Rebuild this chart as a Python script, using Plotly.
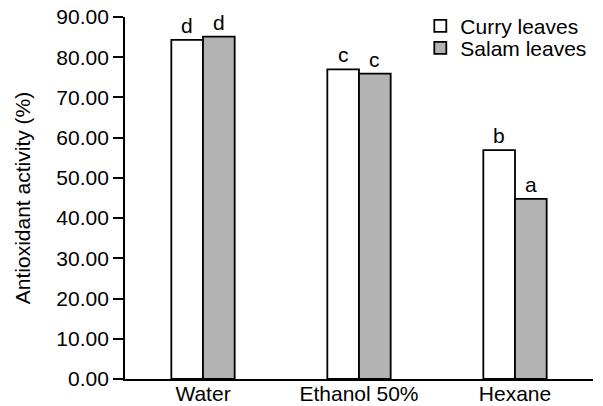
import plotly.graph_objects as go

categories = ["Water", "Ethanol 50%", "Hexane"]
curry = [84.3, 77.0, 56.9]
salam = [85.1, 75.9, 44.8]
curry_letters = ["d", "c", "b"]
salam_letters = ["d", "c", "a"]

FONT = "Liberation Sans, Arial, sans-serif"
FS = 21
BARGAP = 0.594

fig = go.Figure()
fig.add_trace(go.Bar(name="Curry leaves", x=categories, y=curry, legend="legend",
                     marker=dict(color="white", line=dict(color="black", width=1.8))))
fig.add_trace(go.Bar(name="Salam leaves", x=categories, y=salam, legend="legend2",
                     marker=dict(color="#b3b3b3", line=dict(color="black", width=1.8))))

off = (1 - BARGAP) / 4
for i in range(len(categories)):
    for vals, letters, sgn in ((curry, curry_letters, -1), (salam, salam_letters, 1)):
        fig.add_annotation(x=i + sgn * off, y=vals[i], text=letters[i], showarrow=False,
                           yanchor="bottom", yshift=1,
                           font=dict(size=FS, color="black", family=FONT))

fig.update_layout(
    width=603, height=406,
    margin=dict(l=125, r=10, t=17, b=27, autoexpand=False),
    paper_bgcolor="white", plot_bgcolor="white",
    barmode="group", bargap=BARGAP, bargroupgap=0,
    font=dict(family=FONT, size=FS, color="black"),
    showlegend=True,
    legend=dict(x=0.631, y=1.031, xanchor="left", yanchor="top",
                bgcolor="rgba(0,0,0,0)", font=dict(size=FS)),
    legend2=dict(x=0.631, y=0.9705, xanchor="left", yanchor="top",
                 bgcolor="rgba(0,0,0,0)", font=dict(size=FS)),
    xaxis=dict(showline=True, linecolor="black", linewidth=1.8, ticks="",
               showgrid=False, tickfont=dict(size=FS), ticklabelstandoff=-5,
               ticklabeloverflow="allow"),
    yaxis=dict(range=[0, 90], dtick=10, tickformat=".2f", showline=True,
               linecolor="black", linewidth=1.8, ticks="outside", ticklen=10,
               tickwidth=1.5, tickcolor="black", showgrid=False, zeroline=False,
               tickfont=dict(size=FS), ticklabeloverflow="allow",
               title=dict(text="Antioxidant activity (%)", font=dict(size=FS), standoff=20)),
)

fig.write_html("out.html", config={"displayModeBar": False},
               post_script="document.body.style.margin='0';")
